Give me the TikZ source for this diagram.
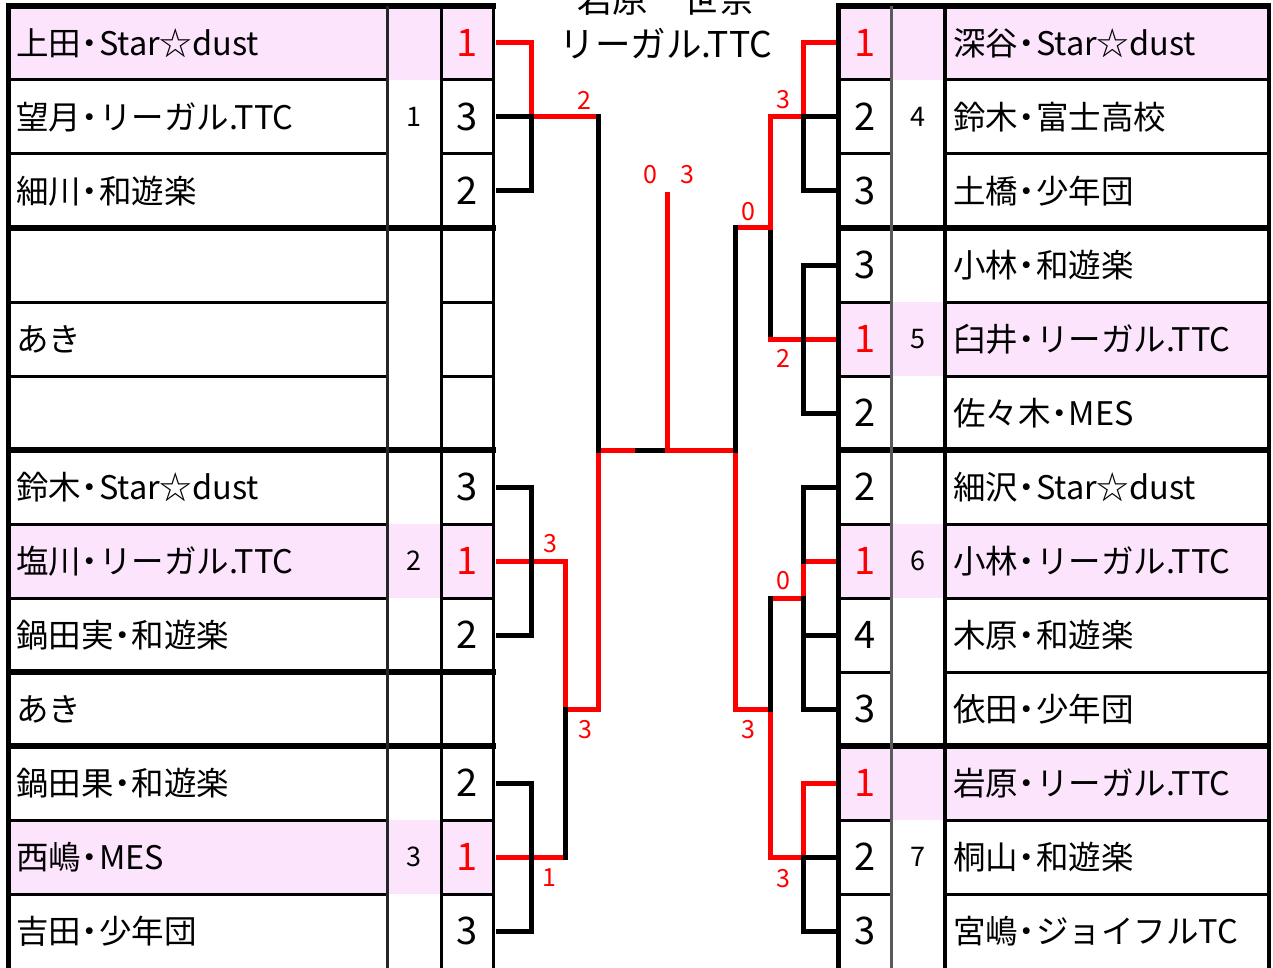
\documentclass[tikz,border=0pt]{standalone}
\usepackage{fontspec}
\setmainfont{Noto Sans CJK JP}
\definecolor{rowpink}{RGB}{253,228,253}
\definecolor{winred}{RGB}{255,0,0}
\definecolor{divgray}{RGB}{90,90,90}
\newcommand\nkg{\makebox[0.55em][c]{・}}
\begin{document}
\begin{tikzpicture}[x=1pt,y=-1pt,
  tblthick/.style={line width=5.5pt},
  tblthin/.style={line width=3pt},
  loser/.style={line width=5pt,black,line cap=rect,line join=miter},
  winner/.style={line width=5pt,winred,line cap=rect,line join=miter},
  namecell/.style={anchor=base west,inner sep=0pt,font=\fontsize{32.5}{33}\selectfont},
  scorecell/.style={inner sep=0pt,font=\fontsize{38}{38}\selectfont},
  grpcell/.style={inner sep=0pt,font=\fontsize{27}{27}\selectfont},
  scorelbl/.style={inner sep=0pt,text=winred,font=\fontsize{25}{25}\selectfont},
  titletext/.style={anchor=base,inner sep=0pt,font=\fontsize{35.5}{36}\selectfont},
]
\useasboundingbox (0,0) rectangle (1273,968);
\clip (0,0) rectangle (1273,968);

% ---------- pink highlighted rows ----------
\foreach \k in {0,7,11} \fill[rowpink] (8,{6+74*\k}) rectangle (493,{80+74*\k});
\foreach \k in {0,4,7,10} \fill[rowpink] (838,{6+74*\k}) rectangle (1269,{80+74*\k});

% ---------- left table ----------
\foreach \y in {80,154,302,376,524,598,820,894} {
  \draw[tblthin] (8,\y) -- (387.5,\y);
  \draw[tblthin] (441,\y) -- (493.5,\y);
}
\foreach \y in {6,228,450,672,746} \draw[tblthick] (6,\y) -- (495.5,\y);
\draw[line width=5pt] (8.5,3.5) -- (8.5,968);
\draw[line width=2.7pt,black!85] (387.5,6) -- (387.5,968);
\draw[line width=3pt] (441,6) -- (441,968);
\draw[line width=3.5pt] (493.5,3.5) -- (493.5,968);

% ---------- right table ----------
\foreach \y in {80,154,302,376,524,598,672,820,894} {
  \draw[tblthin] (838,\y) -- (891.5,\y);
  \draw[tblthin] (945,\y) -- (1269,\y);
}
\foreach \y in {6,228,450,746} \draw[tblthick] (836,\y) -- (1271,\y);
\draw[line width=5pt] (838.5,3.5) -- (838.5,968);
\draw[line width=3pt,divgray] (891.5,6) -- (891.5,968);
\draw[line width=3.5pt] (945,6) -- (945,968);
\draw[line width=4pt] (1268.7,3.5) -- (1268.7,968);

% ---------- texts: left ----------
\foreach \k/\t in {0/上田\nkg Star☆dust,1/望月\nkg リーガル.TTC,2/細川\nkg 和遊楽,4/あき,6/鈴木\nkg Star☆dust,7/塩川\nkg リーガル.TTC,8/鍋田実\nkg 和遊楽,9/あき,10/鍋田果\nkg 和遊楽,11/西嶋\nkg MES,12/吉田\nkg 少年団}
  \node[namecell] (ln\k) at (16,{55.5+74*\k}) {\t};
\foreach \k/\s/\c in {0/1/winred,1/3/black,2/2/black,6/3/black,7/1/winred,8/2/black,10/2/black,11/1/winred,12/3/black}
  \node[scorecell,text=\c] (lsc\k) at (467,{43+74*\k}) {\s};
\node[grpcell] (lg1) at (414,117) {1};
\node[grpcell] (lg2) at (414,561) {2};
\node[grpcell] (lg3) at (414,857) {3};

% ---------- texts: right ----------
\foreach \k/\t in {0/深谷\nkg Star☆dust,1/鈴木\nkg 富士高校,2/土橋\nkg 少年団,3/小林\nkg 和遊楽,4/臼井\nkg リーガル.TTC,5/佐々木\nkg MES,6/細沢\nkg Star☆dust,7/小林\nkg リーガル.TTC,8/木原\nkg 和遊楽,9/依田\nkg 少年団,10/岩原\nkg リーガル.TTC,11/桐山\nkg 和遊楽,12/宮嶋\nkg ジョイフルTC}
  \node[namecell] (rn\k) at (953,{55.5+74*\k}) {\t};
\foreach \k/\s/\c in {0/1/winred,1/2/black,2/3/black,3/3/black,4/1/winred,5/2/black,6/2/black,7/1/winred,8/4/black,9/3/black,10/1/winred,11/2/black,12/3/black}
  \node[scorecell,text=\c] (rsc\k) at (865,{43+74*\k}) {\s};
\node[grpcell] (rg4) at (918,117) {4};
\node[grpcell] (rg5) at (918,339) {5};
\node[grpcell] (rg6) at (918,561) {6};
\node[grpcell] (rg7) at (918,857) {7};

% ---------- champion ----------
\node[titletext] (champname) at (666,13) {岩原　世奈};
\node[titletext] (champteam) at (666,58) {リーガル.TTC};

% ---------- bracket coordinates ----------
\foreach \k in {0,...,12} {
  \coordinate (ls\k) at (498,{43+74*\k});
  \coordinate (rs\k) at (833,{43+74*\k});
}
\coordinate (LA) at (531,117);  \coordinate (LAo) at (598,117);
\coordinate (LB) at (531,561);  \coordinate (LBo) at (565,561);
\coordinate (LC) at (531,857);  \coordinate (LCo) at (565,857);
\coordinate (LD) at (565,709);  \coordinate (LDo) at (598,709);
\coordinate (LF) at (598,450);  \coordinate (LFm) at (632,450);
\coordinate (CH) at (667,450);  \coordinate (CHt) at (667,194.5);
\coordinate (RF) at (735,450);
\coordinate (RA) at (803,117);  \coordinate (RAo) at (770,117);
\coordinate (RB) at (803,339);  \coordinate (RBo) at (770,339);
\coordinate (RU) at (770,228);  \coordinate (RUo) at (735,228);
\coordinate (RC) at (803,598);  \coordinate (RCo) at (770,598);
\coordinate (RD) at (803,857);  \coordinate (RDo) at (770,857);
\coordinate (RL) at (770,709);  \coordinate (RLo) at (735,709);

% black segments lying under red
\draw[loser] (LFm) -- (CH);
\draw[loser] (RU) -- (RBo);

% red (winning) paths
\draw[winner] (ls0) -- (ls0 -| LA) -- (LA) -- (LAo);
\draw[winner] (ls7) -- (LBo) -- (LD) -- (LDo) -- (LF) -- (LFm);
\draw[winner] (ls11) -- (LCo);
\draw[winner] (CHt) -- (CH) -- (RF) -- (RLo) -- (RL) -- (RDo) -- (RD) -- (rs10 -| RD) -- (rs10);
\draw[winner] (rs0) -- (rs0 -| RA) -- (RA) -- (RAo) -- (RU) -- (RUo);
\draw[winner] (rs4) -- (RB) -- (RBo);
\draw[winner] (rs7) -- (rs7 -| RC) -- (RC) -- (RCo);

% black (losing) paths
\draw[loser] (ls1) -- (LA);
\draw[loser] (ls2) -- (ls2 -| LA) -- (LA);
\draw[loser] (LAo) -- (LF);
\draw[loser] (ls6) -- (ls6 -| LB) -- (ls8 -| LB) -- (ls8);
\draw[loser] (LD) -- (LCo);
\draw[loser] (ls10) -- (ls10 -| LC) -- (ls12 -| LC) -- (ls12);
\draw[loser] (rs1) -- (RA);
\draw[loser] (rs2) -- (rs2 -| RA) -- (RA);
\draw[loser] (rs3) -- (rs3 -| RB) -- (rs5 -| RB) -- (rs5);
\draw[loser] (RUo) -- (RF);
\draw[loser] (rs6) -- (rs6 -| RC) -- (rs7 -| RC);
\draw[loser] (rs8) -- (rs8 -| RC);
\draw[loser] (RC) -- (rs9 -| RC) -- (rs9);
\draw[loser] (RCo) -- (RL);
\draw[loser] (rs11) -- (RD);
\draw[loser] (RD) -- (rs12 -| RD) -- (rs12);

% match score labels
\node[scorelbl] (m1) at (584,100) {2};
\node[scorelbl] (m2) at (550,544) {3};
\node[scorelbl] (m3) at (549,878) {1};
\node[scorelbl] (m4) at (585,730) {3};
\node[scorelbl] (m5) at (650,175) {0};
\node[scorelbl] (m6) at (687,175) {3};
\node[scorelbl] (m7) at (783,100) {3};
\node[scorelbl] (m8) at (748.5,212) {0};
\node[scorelbl] (m9) at (783,358) {2};
\node[scorelbl] (m10) at (783,581) {0};
\node[scorelbl] (m11) at (748.5,730) {3};
\node[scorelbl] (m12) at (783,879) {3};
\end{tikzpicture}
\end{document}
